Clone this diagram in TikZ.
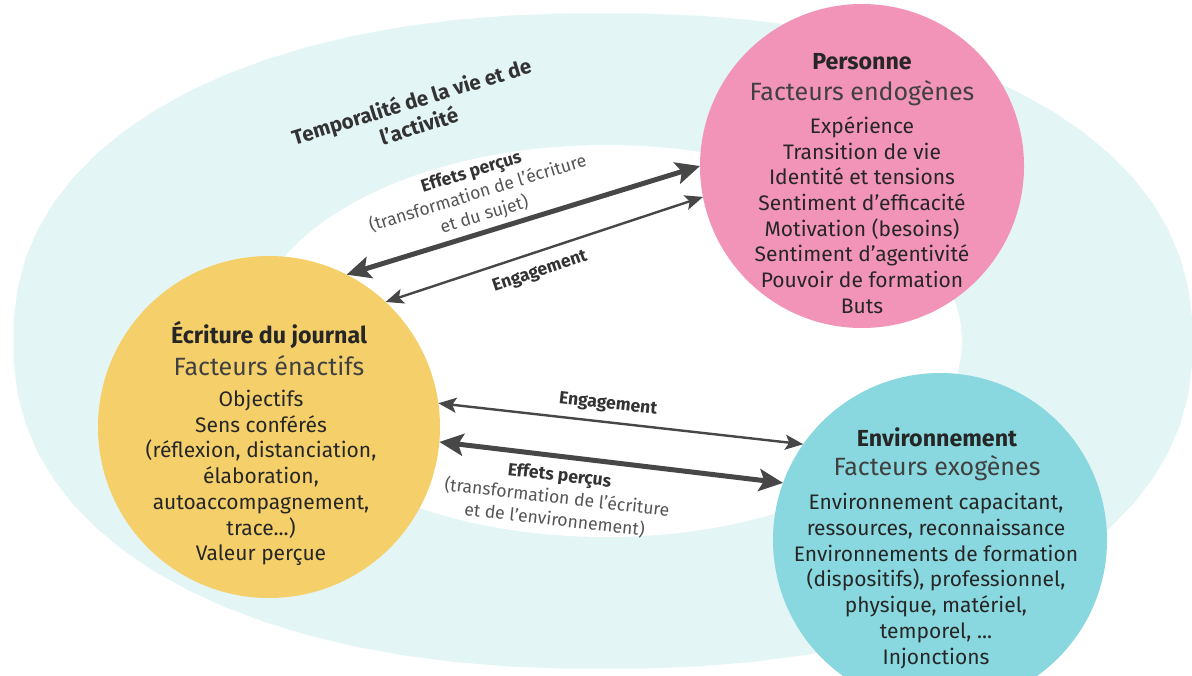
\documentclass[tikz,border=0pt]{standalone}
\usepackage{fontspec}
\setmainfont{Fira Sans}
\usetikzlibrary{arrows.meta}
\definecolor{outerc}{HTML}{E4F5F6}
\definecolor{pinkc}{HTML}{F294B7}
\definecolor{yellowc}{HTML}{F5D06A}
\definecolor{cyanc}{HTML}{89D8DF}
\definecolor{titlec}{HTML}{262626}
\definecolor{subc}{HTML}{404040}
\definecolor{bodyc}{HTML}{262626}
\definecolor{lblc}{HTML}{555555}
\definecolor{lblb}{HTML}{333333}
\definecolor{arrc}{HTML}{474747}
\begin{document}
\begin{tikzpicture}[x=0.5pt,y=-0.5pt,
  circ/.style={circle, inner sep=0pt, outer sep=0pt},
  ttl/.style={font=\fontsize{11.6}{14}\selectfont\bfseries, text=titlec, inner sep=0pt},
  subt/.style={font=\fontsize{12.5}{15}\selectfont, text=subc, inner sep=0pt},
  bodyt/.style={font=\fontsize{10.5}{12.85}\selectfont, text=bodyc, align=center, inner sep=0pt},
  lbl/.style={font=\fontsize{8.8}{11.2}\selectfont, text=lblc, align=center, inner sep=0pt},
  lblbold/.style={font=\fontsize{8.8}{11}\selectfont\bfseries, text=lblb, inner sep=0pt},
  thickarr/.style={draw=arrc, line width=2.5pt,
    {Stealth[length=12pt,width=11pt,inset=2.5pt]}-{Stealth[length=12pt,width=11pt,inset=2.5pt]}},
  thinarr/.style={draw=arrc, line width=1.2pt,
    {Stealth[length=9pt,width=7.5pt,inset=2pt]}-{Stealth[length=9pt,width=7.5pt,inset=2pt]}}
]
\useasboundingbox (0,0) rectangle (1192,675);
\fill[white] (0,0) rectangle (1192,675);
% outer zone (slightly squarish ellipse)
\fill[outerc]
  plot[variable=\t, domain=2.5:357.5, samples=72]
  ({603+590*cos(\t)*abs(cos(\t))^(-0.1)}, {341+328*sin(\t)*abs(sin(\t))^(-0.1)}) -- cycle;
% inner zone
\fill[white] (606,341) ellipse [x radius=356, y radius=196];

% circles
\node[circ, fill=pinkc, minimum size=162pt] (pink) at (862,166) {};
\node[circ, fill=yellowc, minimum size=171pt] (yellow) at (269,427) {};
\node[circ, fill=cyanc, minimum size=167pt] (cyan) at (940,540) {};

% pink texts
\node[ttl] (pt) at (862,62) {Personne};
\node[subt] (ps) at (862,93) {Facteurs endogènes};
\node[bodyt] (pb) at (862,215) {Expérience\\Transition de vie\\Identité et tensions\\Sentiment d’efficacité\\Motivation (besoins)\\Sentiment d’agentivité\\Pouvoir de formation\\Buts};

% yellow texts
\node[ttl] (yt) at (269,335) {Écriture du journal};
\node[subt] (ys) at (269,366) {Facteurs énactifs};
\node[bodyt] (yb) at (261,478) {Objectifs\\Sens conférés\\(réflexion, distanciation,\\élaboration,\\autoaccompagnement,\\trace...)\\Valeur perçue};

% cyan texts
\node[ttl] (ct) at (937,437) {Environnement};
\node[subt] (cs) at (937,468) {Facteurs exogènes};
\node[bodyt] (cb) at (936,581) {Environnement capacitant,\\ressources, reconnaissance\\Environnements de formation\\(dispositifs), professionnel,\\physique, matériel,\\temporel, ...\\Injonctions};

% zone label
\node[font=\fontsize{10.3}{12.8}\selectfont\bfseries, text=lblb, align=center, rotate=17, inner sep=0pt] (temp) at (415,113) {Temporalité de la vie et de\\l’activité};

% connectors
\draw[thickarr] (yellow.63) -- (pink.180);
\draw[thinarr] (yellow.47) -- (pink.191);
\draw[thinarr] (yellow.8) -- (cyan.145);
\draw[thickarr] (yellow.-5) -- (cyan.160);

% connector labels
\node[lbl, rotate=17] (la) at (478,194) {{\bfseries\color{lblb}Effets perçus}\\(transformation de l’écriture\\et du sujet)};
\node[lblbold, rotate=18.5] (lb) at (540,272) {Engagement};
\node[lblbold, rotate=-6.3] (lc) at (608,405) {Engagement};
\node[lbl, rotate=-6.5] (ld) at (557,498) {{\bfseries\color{lblb}Effets perçus}\\(transformation de l’écriture\\et de l’environnement)};
\end{tikzpicture}
\end{document}
